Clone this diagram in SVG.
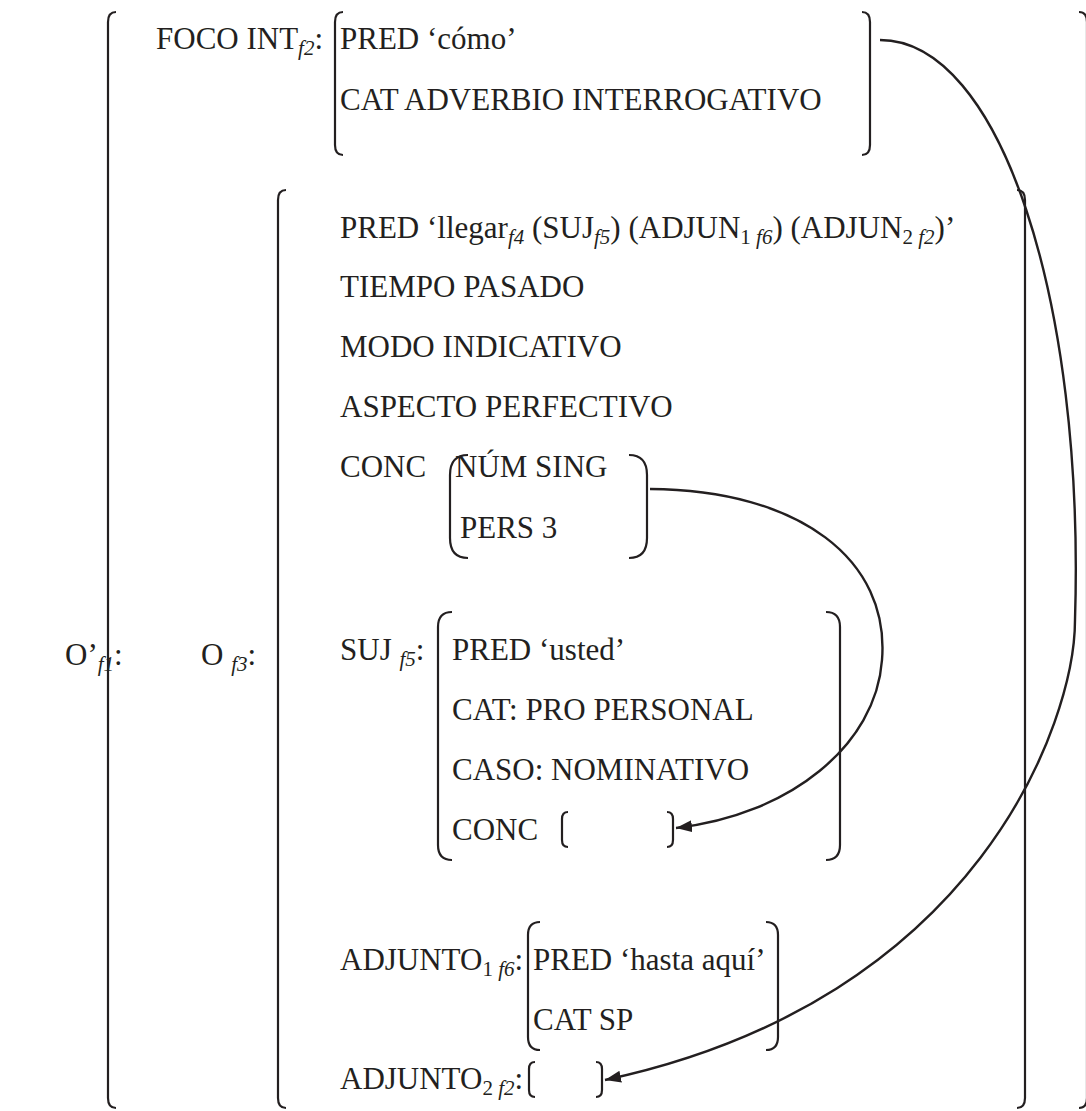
<svg xmlns="http://www.w3.org/2000/svg" width="1086" height="1111" viewBox="0 0 1086 1111">
<style>
text{font-family:"Liberation Serif","Times New Roman",serif;font-size:31px;fill:#231f20}
.s{font-size:21px}
.i{font-style:italic}
.br{fill:none;stroke:#231f20;stroke-width:2.2}
.cn{fill:none;stroke:#231f20;stroke-width:2.4}
</style>
<defs>
<marker id="ah" markerUnits="userSpaceOnUse" markerWidth="18" markerHeight="12" refX="16" refY="6" orient="auto">
<path d="M0,0 L16,6 L0,12 Z" fill="#231f20"/>
</marker>
</defs>
<rect width="1086" height="1111" fill="#fff"/>

<g id="f1">
<path class="br" d="M116,12 Q108,12 108,22 L108,1098 Q108,1108 116,1108"/>
<path class="br" d="M1079,12 Q1087,12 1087,22 L1087,1098 Q1087,1108 1079,1108"/>
<text x="65" y="665">O’<tspan class="s i" dy="6">f1</tspan><tspan dy="-6">:</tspan></text>
</g>

<g id="foco">
<text x="156" y="49">FOCO INT<tspan class="s i" dy="6">f2</tspan><tspan dy="-6">:</tspan></text>
<path class="br" d="M343,12 Q335,12 335,22 L335,145 Q335,155 343,155"/>
<path class="br" d="M862,12 Q870,12 870,22 L870,145 Q870,155 862,155"/>
<text x="340" y="49">PRED ‘cómo’</text>
<text x="340" y="110">CAT ADVERBIO INTERROGATIVO</text>
</g>

<g id="f3">
<text x="201" y="665">O <tspan class="s i" dy="6">f3</tspan><tspan dy="-6">:</tspan></text>
<path class="br" d="M286,190 Q278,190 278,200 L278,1098 Q278,1108 286,1108"/>
<path class="br" d="M1017,190 Q1025,190 1025,200 L1025,1098 Q1025,1108 1017,1108"/>
<text x="340" y="238">PRED ‘llegar<tspan class="s i" dy="6">f4</tspan><tspan dy="-6"> (SUJ</tspan><tspan class="s i" dy="6">f5</tspan><tspan dy="-6">) (ADJUN</tspan><tspan class="s" dy="6">1 </tspan><tspan class="s i">f6</tspan><tspan dy="-6">) (ADJUN</tspan><tspan class="s" dy="6">2 </tspan><tspan class="s i">f2</tspan><tspan dy="-6">)’</tspan></text>
<text x="340" y="297">TIEMPO PASADO</text>
<text x="340" y="357">MODO INDICATIVO</text>
<text x="340" y="417">ASPECTO PERFECTIVO</text>
<text x="340" y="477">CONC</text>
</g>

<g id="conc">
<path class="br" d="M468,455 Q450,455 450,475 L450,538 Q450,558 468,558"/>
<path class="br" d="M629,455 Q647,455 647,475 L647,538 Q647,558 629,558"/>
<text x="455" y="477">NÚM SING</text>
<text x="460" y="538">PERS 3</text>
</g>

<g id="suj">
<text x="340" y="660">SUJ <tspan class="s i" dy="6">f5</tspan><tspan dy="-6">:</tspan></text>
<path class="br" d="M452,612 Q438,612 438,627 L438,845 Q438,860 452,860"/>
<path class="br" d="M826,612 Q840,612 840,627 L840,845 Q840,860 826,860"/>
<text x="452" y="660">PRED ‘usted’</text>
<text x="452" y="720">CAT: PRO PERSONAL</text>
<text x="452" y="780">CASO: NOMINATIVO</text>
<text x="452" y="840">CONC</text>
<path class="br" d="M568,812 Q562,812 562,819 L562,840 Q562,847 568,847"/>
<path class="br" d="M667,812 Q673,812 673,819 L673,840 Q673,847 667,847"/>
</g>

<g id="adj1">
<text x="340" y="970">ADJUNTO<tspan class="s" dy="6">1 </tspan><tspan class="s i">f6</tspan><tspan dy="-6">:</tspan></text>
<path class="br" d="M540,922 Q528,922 528,935 L528,1037 Q528,1050 540,1050"/>
<path class="br" d="M766,922 Q778,922 778,935 L778,1037 Q778,1050 766,1050"/>
<text x="533" y="970">PRED ‘hasta aquí’</text>
<text x="533" y="1030">CAT SP</text>
</g>

<g id="adj2">
<text x="340" y="1089">ADJUNTO<tspan class="s" dy="6">2 </tspan><tspan class="s i">f2</tspan><tspan dy="-6">:</tspan></text>
<path class="br" d="M535,1062 Q529,1062 529,1069 L529,1090 Q529,1097 535,1097"/>
<path class="br" d="M596,1062 Q602,1062 602,1069 L602,1090 Q602,1097 596,1097"/>
</g>

<g id="connectors">
<path class="cn" d="M880,40 C1000,40 1085,300 1075,620 C1075,720 980,1000 605,1080" marker-end="url(#ah)"/>
<path class="cn" d="M650,489 C800,490 890,560 882,660 C876,745 790,815 676,828" marker-end="url(#ah)"/>
</g>
</svg>
